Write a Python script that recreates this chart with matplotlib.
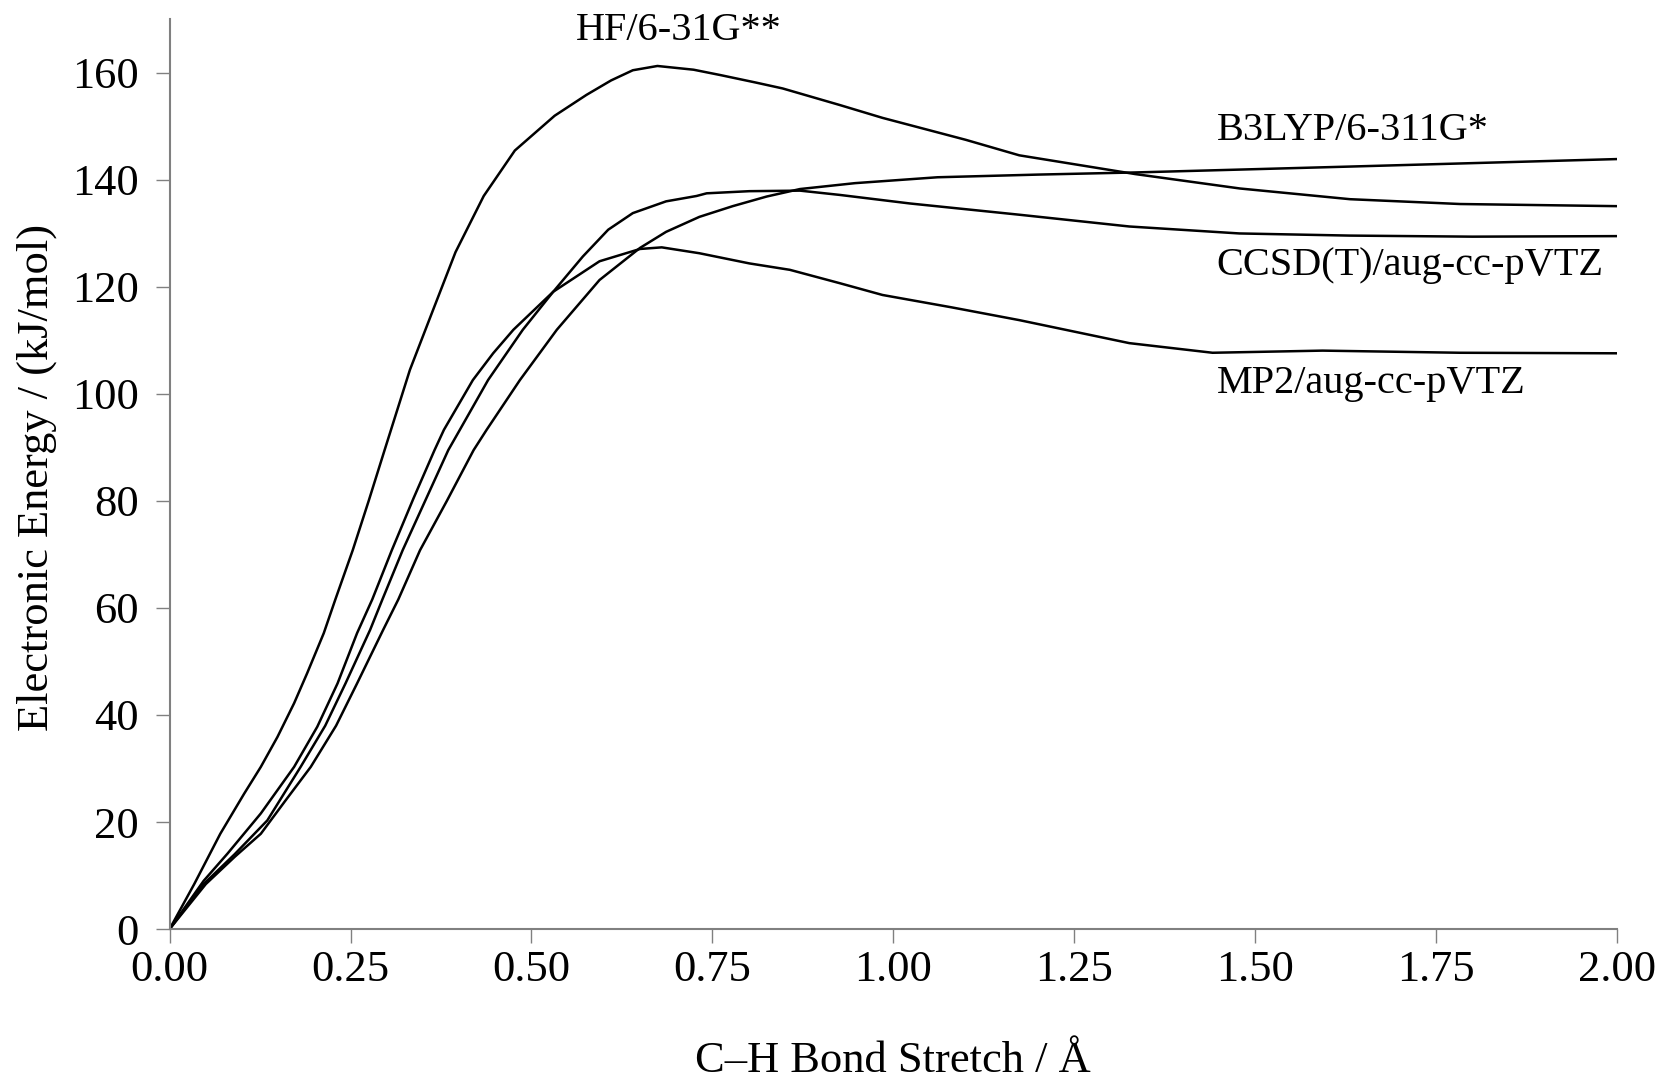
import matplotlib
matplotlib.use("Agg")
import matplotlib.pyplot as plt

# HF/6-31G**
hf_x = [0, 0.034, 0.070, 0.103, 0.126, 0.149, 0.172, 0.190, 0.213, 0.229, 0.253, 0.275, 0.297,
        0.332, 0.364, 0.395, 0.434, 0.477, 0.532, 0.576, 0.610, 0.640, 0.674, 0.724, 0.761, 0.810,
        0.847, 0.926, 0.985, 1.10, 1.174, 1.334, 1.479, 1.631, 1.783, 2.0]
hf_e = [0, 8.4, 17.8, 25.3, 30.3, 35.9, 42.2, 47.8, 55.3, 61.6, 70.8, 80.0, 89.5,
        104.5, 115.7, 126.5, 137.0, 145.5, 152.0, 155.9, 158.6, 160.5, 161.3, 160.6, 159.6, 158.2,
        157.1, 154.0, 151.6, 147.5, 144.6, 141.1, 138.4, 136.4, 135.5, 135.1]

# MP2/aug-cc-pVTZ
mp2_x = [0, 0.047, 0.080, 0.126, 0.172, 0.204, 0.232, 0.259, 0.280, 0.307, 0.337, 0.366,
         0.379, 0.419, 0.447, 0.475, 0.530, 0.594, 0.650, 0.680, 0.732, 0.801, 0.857, 0.926,
         0.985, 1.08, 1.174, 1.326, 1.441, 1.593, 1.783, 2.0]
mp2_e = [0, 9.0, 14.1, 21.6, 30.3, 37.8, 45.9, 55.3, 61.6, 70.8, 80.5, 89.5,
         93.3, 102.6, 107.6, 112.0, 119.1, 124.8, 127.1, 127.4, 126.3, 124.4, 123.2, 120.7,
         118.5, 116.2, 113.8, 109.5, 107.7, 108.1, 107.7, 107.6]

# CCSD(T)/aug-cc-pVTZ
cc_x = [0, 0.047, 0.090, 0.135, 0.181, 0.215, 0.243, 0.277, 0.294, 0.322, 0.353, 0.385,
        0.401, 0.440, 0.488, 0.530, 0.571, 0.606, 0.640, 0.686, 0.728, 0.742, 0.801, 0.871,
        0.926, 1.023, 1.174, 1.326, 1.478, 1.63, 1.80, 2.0]
cc_e = [0, 8.4, 14.0, 20.3, 30.3, 38.0, 45.9, 55.9, 61.6, 70.8, 80.0, 89.5,
        93.3, 102.6, 112.0, 119.1, 125.7, 130.7, 133.8, 136.0, 137.0, 137.5, 137.9, 138.0,
        137.2, 135.6, 133.5, 131.3, 130.0, 129.6, 129.4, 129.5]

# B3LYP/6-311G*
b3_x = [0, 0.050, 0.090, 0.126, 0.160, 0.195, 0.230, 0.259, 0.295, 0.316, 0.346, 0.383,
        0.420, 0.438, 0.484, 0.535, 0.594, 0.650, 0.686, 0.732, 0.778, 0.825, 0.871, 0.947,
        1.061, 1.20, 1.334, 1.631, 2.0]
b3_e = [0, 8.4, 13.5, 17.8, 24.0, 30.3, 38.0, 45.9, 55.9, 61.6, 70.8, 80.0,
        89.5, 93.3, 102.6, 112.0, 121.3, 127.3, 130.3, 133.1, 135.1, 136.9, 138.3, 139.4,
        140.5, 141.0, 141.4, 142.5, 143.9]

x_ticks = [0.0, 0.25, 0.5, 0.75, 1.0, 1.25, 1.5, 1.75, 2.0]
x_tick_labels = ["0.00", "0.25", "0.50", "0.75", "1.00", "1.25", "1.50", "1.75", "2.00"]
y_ticks = [0, 20, 40, 60, 80, 100, 120, 140, 160]

labels = ["HF/6-31G**", "B3LYP/6-311G*", "CCSD(T)/aug-cc-pVTZ", "MP2/aug-cc-pVTZ"]

plt.rcParams['font.family'] = ['Liberation Serif', 'DejaVu Serif']

fig = plt.figure(figsize=(16.63, 10.79), dpi=100)
ax = fig.add_axes([0.102, 0.139, 0.8704, 0.843])

lw = 1.8
for xs, es in [(hf_x, hf_e), (mp2_x, mp2_e), (cc_x, cc_e), (b3_x, b3_e)]:
    ax.plot(xs, es, color='black', lw=lw, solid_joinstyle='round', solid_capstyle='round')

ax.set_xlim(0, 2.0)
ax.set_ylim(0, 170)
ax.set_xticks(x_ticks)
ax.set_xticklabels(x_tick_labels)
ax.set_yticks(y_ticks)

for s in ['top', 'right']:
    ax.spines[s].set_visible(False)
for s in ['left', 'bottom']:
    ax.spines[s].set_color('#808080')
    ax.spines[s].set_linewidth(1.5)
ax.tick_params(axis='both', direction='out', length=10, width=1.0, color='#808080',
               labelsize=32, labelcolor='black')
ax.tick_params(axis='x', pad=5)
ax.tick_params(axis='y', pad=12)

ax.set_xlabel("C\u2013H Bond Stretch / \u00c5", fontsize=32)
ax.set_ylabel("Electronic Energy / (kJ/mol)", fontsize=32)
ax.xaxis.label.set_va('center')
ax.yaxis.label.set_va('center')
ax.xaxis.set_label_coords(0.5, -0.145)
ax.yaxis.set_label_coords(-0.092, 0.497)

fs = 29
ax.text(0.703, 168, labels[0], fontsize=fs, ha='center', va='center', clip_on=False)
ax.text(1.447, 149.3, labels[1], fontsize=fs, ha='left', va='center')
ax.text(1.447, 124.1, labels[2], fontsize=fs, ha='left', va='center')
ax.text(1.447, 101.9, labels[3], fontsize=fs, ha='left', va='center')

fig.savefig("out.png", dpi=100)
